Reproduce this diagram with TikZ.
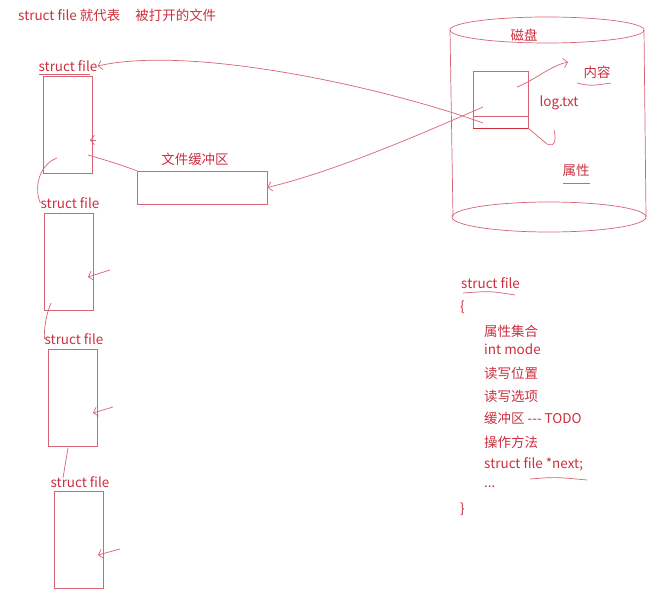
\documentclass[tikz,border=0pt]{standalone}
\usepackage{fontspec}
\setmainfont{Noto Sans CJK SC}
\usetikzlibrary{arrows.meta}
\definecolor{ink}{RGB}{204,46,62}
\definecolor{pen}{RGB}{214,100,114}
\tikzset{
  lbl/.style={text=ink, font=\fontsize{11.5}{13}\selectfont, inner sep=0pt},
  filebox/.style={draw=pen, line width=0.6pt, minimum width=1.47cm, minimum height=2.91cm, inner sep=0pt},
  hand/.style={draw=pen, line width=0.6pt},
  ptr/.style={hand, -{Straight Barb[length=3.5pt,width=8pt]}},
}
\begin{document}
\begin{tikzpicture}[x=0.03cm,y=-0.03cm]
\useasboundingbox (0,0) rectangle (655,591);
\node[lbl, anchor=west] (title) at (18,15) {struct file 就代表\hspace{0.45cm}被打开的文件};
\node[lbl] (l1) at (68,66) {struct file};
\node[lbl] (l2) at (70,203) {struct file};
\node[lbl] (l3) at (74,339) {struct file};
\node[lbl] (l4) at (80,482) {struct file};
\node[filebox] (f1) at (67.5,124.5) {};
\node[filebox] (f2) at (69,262) {};
\node[filebox] (f3) at (73,397.5) {};
\node[filebox] (f4) at (79,539.5) {};
\node[lbl] (buflbl) at (195,159) {文件缓冲区};
\node[hand, minimum width=3.9cm, minimum height=0.99cm, inner sep=0pt] (buf) at (202,187.5) {};
\draw[hand] (450,30) -- (453,217);
\draw[hand] (644,30) -- (646,217);
\draw[hand] (547,30) ellipse [x radius=2.91cm, y radius=0.39cm];
\draw[hand] (549,217) ellipse [x radius=2.91cm, y radius=0.45cm];
\node[lbl] (disk) at (524,35) {磁盘};
\node[hand, minimum width=1.65cm, minimum height=1.71cm, inner sep=0pt] (log) at (500.5,99.5) {};
\draw[hand] ([yshift=0.36cm]log.south west) -- ([yshift=0.36cm]log.south east);
\draw[ink, line width=0.9pt] (log.south west) -- (log.south east);
\node[lbl] (logname) at (559,103) {log.txt};
\node[lbl] (content) at (597,72) {内容};
\node[lbl] (attr) at (576,170) {属性};
\draw[hand] (577,83) .. controls (590,86) .. (611,83);
\draw[hand] (563,183) -- (590,183);
\coordinate (logc) at (517,87);
\coordinate (logtop) at (483,107);
\coordinate (logbot) at (483,123);
\coordinate (tocontent) at (568,62);
\coordinate (toattr) at (547,144);
\draw[ptr] (logc) .. controls (535,80) and (550,66) .. (tocontent);
\draw[hand] (log.south east) -- (toattr) .. controls (556,148) and (556,138) .. (554,130);
\draw[ptr] (logbot) .. controls (380,86) and (190,45) .. (l1.east);
\draw[ptr] (logtop) .. controls (430,130) and (340,170) .. (buf.east);
\coordinate (f1buf) at (88,155);
\draw[hand] (buf.north west) .. controls (115,163) .. (f1buf);
\draw[hand] (39,74) -- (90,74);
\coordinate (f1in) at (57,158);
\coordinate (f2in) at (51,303);
\coordinate (f3in) at (68,448);
\coordinate (l4in) at (63,478);
\draw[hand] (f1in) .. controls (38,165) and (34,190) .. (l2.west);
\draw[hand] (f2in) .. controls (46,315) and (44,328) .. (l3.west);
\draw[hand] (f3in) .. controls (66,460) .. (l4in);
\coordinate (p1) at (96,140);
\coordinate (t1) at (90,140);
\coordinate (p2) at (110,270);
\coordinate (t2) at (88,277);
\coordinate (p3) at (113,407);
\coordinate (t3) at (93,413);
\coordinate (p4) at (120,549);
\coordinate (t4) at (98,555);
\draw[ptr] (p1) -- (t1);
\draw[ptr] (p2) -- (t2);
\draw[ptr] (p3) -- (t3);
\draw[ptr] (p4) -- (t4);
\node[lbl, anchor=west] (sf) at (461,283) {struct file};
\draw[hand] (463,293) .. controls (490,291) .. (515,295);
\node[lbl, anchor=west] (lb) at (460,307) {\{};
\node[lbl, anchor=west] (m1) at (484,331) {属性集合};
\node[lbl, anchor=west] (m2) at (484,349) {int mode};
\node[lbl, anchor=west] (m3) at (484,373) {读写位置};
\node[lbl, anchor=west] (m4) at (484,396) {读写选项};
\node[lbl, anchor=west] (m5) at (484,418) {缓冲区 -{}-{}- TODO};
\node[lbl, anchor=west] (m6) at (484,442) {操作方法};
\node[lbl, anchor=west] (m7) at (484,464) {struct file *next;};
\node[lbl, anchor=west] (m8) at (484,487) {...};
\node[lbl, anchor=west] (rb) at (460,509) {\}};
\draw[hand] (530,479) .. controls (555,477) .. (587,480);
\end{tikzpicture}
\end{document}
